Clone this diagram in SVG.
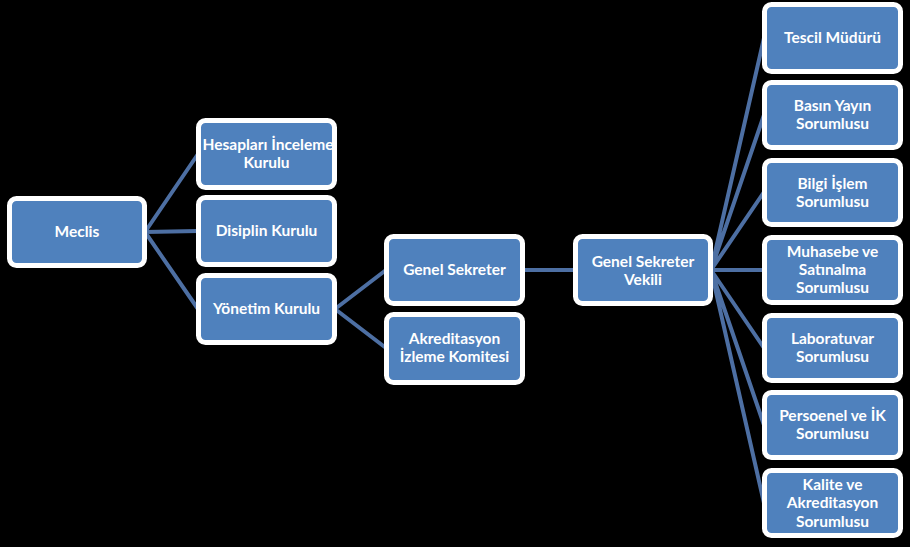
<svg xmlns="http://www.w3.org/2000/svg" width="910" height="547" viewBox="0 0 910 547">
<style>
.bg{fill:#000}
.box{fill:#4F81BD;stroke:#fff;stroke-width:5}
.lbl{font-family:Lato,"Open Sans","Liberation Sans",sans-serif;font-weight:bold;font-size:15.5px;fill:#fff;text-anchor:middle}
.conn{stroke:#4D6FA3;stroke-width:4;fill:none;stroke-linecap:butt}
</style>
<rect class="bg" x="0" y="0" width="910" height="547"/>
<g id="connectors">
<path class="conn" d="M145 232 L198 154 M145 232 L198 231 M145 232 L198 309"/>
<path class="conn" d="M335 309 L386 270 M335 309 L386 348"/>
<path class="conn" d="M523 270 L575 270"/>
<path class="conn" d="M711 270 L764 38 M711 270 L764 115 M711 270 L764 192 M711 270 L764 270 M711 270 L764 348 M711 270 L764 425 M711 270 L764 503"/>
</g>
<g id="meclis"><rect class="box" x="9.5" y="198.5" width="135" height="67" rx="7"/><text class="lbl" x="77" y="237">Meclis</text></g>
<g id="hesaplari"><rect class="box" x="198.5" y="120.5" width="136" height="67" rx="7"/><text class="lbl" x="268" y="150">Hesapları İnceleme</text><text class="lbl" x="266.5" y="168">Kurulu</text></g>
<g id="disiplin"><rect class="box" x="198.5" y="197.5" width="136" height="67" rx="7"/><text class="lbl" x="266.5" y="236">Disiplin Kurulu</text></g>
<g id="yonetim"><rect class="box" x="198.5" y="275.5" width="136" height="67" rx="7"/><text class="lbl" x="266.5" y="314">Yönetim Kurulu</text></g>
<g id="genel-sekreter"><rect class="box" x="386.5" y="236.5" width="136" height="67" rx="7"/><text class="lbl" x="454.5" y="275">Genel Sekreter</text></g>
<g id="akreditasyon-izleme"><rect class="box" x="386.5" y="314.5" width="136" height="68" rx="7"/><text class="lbl" x="454.5" y="344">Akreditasyon</text><text class="lbl" x="454.5" y="362">İzleme Komitesi</text></g>
<g id="genel-sekreter-vekili"><rect class="box" x="575.5" y="236.5" width="135" height="67" rx="7"/><text class="lbl" x="643" y="267">Genel Sekreter</text><text class="lbl" x="643" y="285">Vekili</text></g>
<g id="tescil"><rect class="box" x="764.5" y="4.5" width="136" height="67" rx="7"/><text class="lbl" x="832.5" y="43">Tescil Müdürü</text></g>
<g id="basin"><rect class="box" x="764.5" y="82.5" width="136" height="65" rx="7"/><text class="lbl" x="832.5" y="111">Basın Yayın</text><text class="lbl" x="832.5" y="129">Sorumlusu</text></g>
<g id="bilgi"><rect class="box" x="764.5" y="160.5" width="136" height="64" rx="7"/><text class="lbl" x="832.5" y="189">Bilgi İşlem</text><text class="lbl" x="832.5" y="207">Sorumlusu</text></g>
<g id="muhasebe"><rect class="box" x="764.5" y="237.5" width="136" height="65" rx="7"/><text class="lbl" x="832.5" y="257">Muhasebe ve</text><text class="lbl" x="832.5" y="275">Satınalma</text><text class="lbl" x="832.5" y="293">Sorumlusu</text></g>
<g id="laboratuvar"><rect class="box" x="764.5" y="315.5" width="136" height="65" rx="7"/><text class="lbl" x="832.5" y="344">Laboratuvar</text><text class="lbl" x="832.5" y="362">Sorumlusu</text></g>
<g id="personel"><rect class="box" x="764.5" y="392.5" width="136" height="65" rx="7"/><text class="lbl" x="832.5" y="421">Persoenel ve İK</text><text class="lbl" x="832.5" y="439">Sorumlusu</text></g>
<g id="kalite"><rect class="box" x="764.5" y="470.5" width="136" height="65" rx="7"/><text class="lbl" x="832.5" y="490">Kalite ve</text><text class="lbl" x="832.5" y="508">Akreditasyon</text><text class="lbl" x="832.5" y="527">Sorumlusu</text></g>
</svg>
